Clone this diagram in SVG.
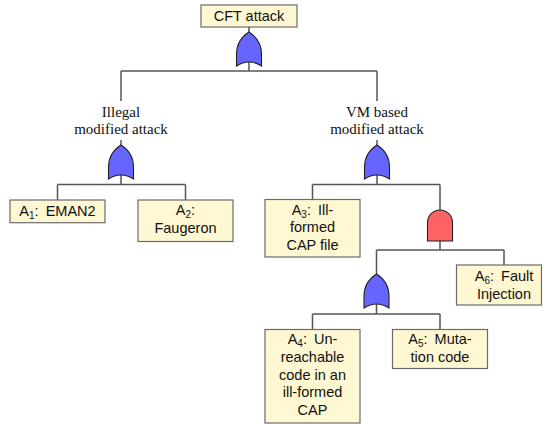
<svg xmlns="http://www.w3.org/2000/svg" width="543" height="424" viewBox="0 0 543 424">
<style>
.box{fill:#fff8d2;stroke:#6b6b6b;stroke-width:1.2}
.t{font-family:"Liberation Sans",Arial,sans-serif;font-size:14.5px;fill:#111;text-anchor:middle}
.s{font-family:"Liberation Serif","Times New Roman",serif;font-size:15px;fill:#111;text-anchor:middle}
.sub{font-size:10px}
.or{fill:#6666ff;stroke:#222;stroke-width:1.1}
.and{fill:#ff6262;stroke:#222;stroke-width:1.1}
.ln{fill:none;stroke:#555;stroke-width:1.5}
</style>
<defs>
<path id="orShape" d="M-12.5,34 L-12.5,22 Q-12.5,8 0,0 Q12.5,8 12.5,22 L12.5,34 Q0,26 -12.5,34 Z"/>
</defs>
<g id="connectors">
<path class="ln" d="M249,27 V32 M249,62 V71 M121,71 H377 M121,71 V101 M377,71 V101"/>
<path class="ln" d="M121,140 V145 M121,175 V184.5 M57.5,184.5 H185.5 M57.5,184.5 V200 M185.5,184.5 V200"/>
<path class="ln" d="M377,140 V145 M377,175 V184.5 M312.5,184.5 H440 M312.5,184.5 V199.5 M440,184.5 V210"/>
<path class="ln" d="M440,241 V250 M376.5,250 H504 M504,250 V265 M376.5,250 V274"/>
<path class="ln" d="M376.5,304 V314 M312.5,314 H440 M312.5,314 V329.5 M440,314 V329.5"/>
</g>
<g id="cft">
<rect class="box" x="201" y="5" width="96" height="22"/>
<text class="t" x="249" y="21">CFT attack</text>
</g>
<g id="gate-top"><use href="#orShape" class="or" x="249" y="32"/></g>
<g id="illegal">
<text class="s" x="121" y="117">Illegal</text>
<text class="s" x="121" y="134">modified attack</text>
</g>
<g id="gate-illegal"><use href="#orShape" class="or" x="121" y="145"/></g>
<g id="vm">
<text class="s" x="377" y="117">VM based</text>
<text class="s" x="377" y="134">modified attack</text>
</g>
<g id="gate-vm"><use href="#orShape" class="or" x="377" y="145"/></g>
<g id="a1">
<rect class="box" x="10" y="200" width="95" height="22.7"/>
<text class="t" x="57.5" y="216">A<tspan class="sub" dy="3">1</tspan><tspan dy="-3">:</tspan><tspan dx="3"> EMAN2</tspan></text>
</g>
<g id="a2">
<rect class="box" x="138" y="200" width="95" height="41.5"/>
<text class="t" x="185.5" y="215">A<tspan class="sub" dy="3">2</tspan><tspan dy="-3">:</tspan></text>
<text class="t" x="185.5" y="232.7">Faugeron</text>
</g>
<g id="a3">
<rect class="box" x="265" y="199.5" width="95" height="57.5"/>
<text class="t" x="312.5" y="214.5">A<tspan class="sub" dy="3">3</tspan><tspan dy="-3">:</tspan><tspan dx="3"> Ill-</tspan></text>
<text class="t" x="312.5" y="232.2">formed</text>
<text class="t" x="312.5" y="249.9">CAP file</text>
</g>
<g id="gate-and"><path class="and" d="M427.5,241 V222.5 A12.5,12.5 0 0 1 452.5,222.5 V241 Z"/></g>
<g id="a6">
<rect class="box" x="456.5" y="265" width="85" height="40"/>
<text class="t" x="504" y="281">A<tspan class="sub" dy="3">6</tspan><tspan dy="-3">:</tspan><tspan dx="3"> Fault</tspan></text>
<text class="t" x="504" y="298.5">Injection</text>
</g>
<g id="gate-a45"><use href="#orShape" class="or" x="376.5" y="274"/></g>
<g id="a4">
<rect class="box" x="265" y="329.5" width="95" height="93.5"/>
<text class="t" x="312.5" y="344">A<tspan class="sub" dy="3">4</tspan><tspan dy="-3">:</tspan><tspan dx="3"> Un-</tspan></text>
<text class="t" x="312.5" y="361.8">reachable</text>
<text class="t" x="312.5" y="379.5">code in an</text>
<text class="t" x="312.5" y="397.3">ill-formed</text>
<text class="t" x="312.5" y="415.2">CAP</text>
</g>
<g id="a5">
<rect class="box" x="392.5" y="329.5" width="95" height="39"/>
<text class="t" x="440" y="344">A<tspan class="sub" dy="3">5</tspan><tspan dy="-3">:</tspan><tspan dx="3"> Muta-</tspan></text>
<text class="t" x="440" y="361.8">tion code</text>
</g>
</svg>
